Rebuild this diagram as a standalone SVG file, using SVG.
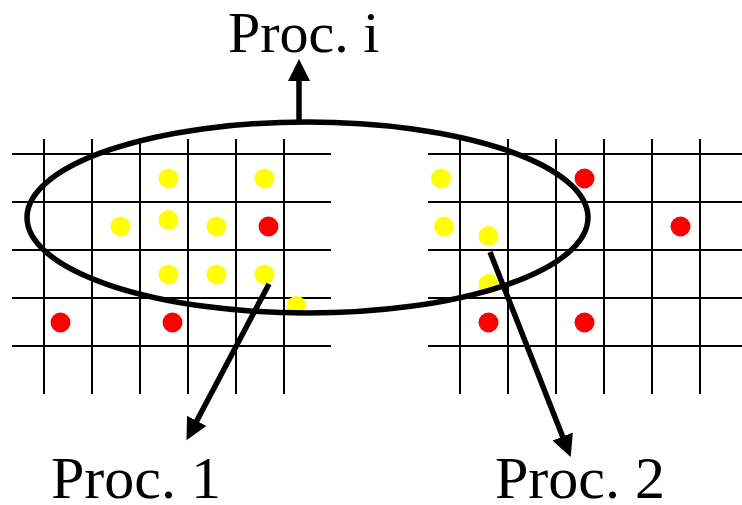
<svg xmlns="http://www.w3.org/2000/svg" width="742" height="505" viewBox="0 0 742 505">
<defs>
<style>
.grid line{stroke:#000;stroke-width:2}
.y{fill:#ffff00}
.r{fill:#ff0000}
.lbl{font-family:"Liberation Serif","Times New Roman",serif;font-size:58px;fill:#000}
.lbl2{font-family:"Liberation Serif","Times New Roman",serif;font-size:60px;fill:#000}
.conn{stroke:#000;stroke-width:5.5;fill:none}
</style>
<marker id="ah" markerUnits="userSpaceOnUse" markerWidth="24" markerHeight="24" refX="1" refY="11" orient="auto">
<path d="M0,0 L22,11 L0,22 z" fill="#000"/>
</marker>
</defs>
<rect width="742" height="505" fill="#fff"/>
<g id="grid-left" class="grid">
<line x1="12" y1="154" x2="331" y2="154"/>
<line x1="12" y1="202" x2="331" y2="202"/>
<line x1="12" y1="250" x2="331" y2="250"/>
<line x1="12" y1="298" x2="331" y2="298"/>
<line x1="12" y1="346" x2="331" y2="346"/>
<line x1="44" y1="139" x2="44" y2="394"/>
<line x1="92" y1="139" x2="92" y2="394"/>
<line x1="140" y1="139" x2="140" y2="394"/>
<line x1="188" y1="139" x2="188" y2="394"/>
<line x1="236" y1="139" x2="236" y2="394"/>
<line x1="284" y1="139" x2="284" y2="394"/>
</g>
<g id="grid-right" class="grid">
<line x1="428" y1="154" x2="742" y2="154"/>
<line x1="428" y1="202" x2="742" y2="202"/>
<line x1="428" y1="250" x2="742" y2="250"/>
<line x1="428" y1="298" x2="742" y2="298"/>
<line x1="428" y1="346" x2="742" y2="346"/>
<line x1="460" y1="139" x2="460" y2="394"/>
<line x1="508" y1="139" x2="508" y2="394"/>
<line x1="556" y1="139" x2="556" y2="394"/>
<line x1="604" y1="139" x2="604" y2="394"/>
<line x1="652" y1="139" x2="652" y2="394"/>
<line x1="700" y1="139" x2="700" y2="394"/>
</g>
<g id="dots-left">
<circle class="y" cx="168.5" cy="178.5" r="10"/>
<circle class="y" cx="264.5" cy="178.5" r="10"/>
<circle class="y" cx="120.5" cy="226.5" r="10"/>
<circle class="y" cx="168.5" cy="220" r="10"/>
<circle class="y" cx="216.5" cy="226.5" r="10"/>
<circle class="r" cx="268.5" cy="226.5" r="10"/>
<circle class="y" cx="168.5" cy="274.5" r="10"/>
<circle class="y" cx="216.5" cy="274.5" r="10"/>
<circle class="y" cx="264.5" cy="274.5" r="10"/>
<circle class="y" cx="296.5" cy="306" r="10"/>
<circle class="r" cx="60.5" cy="322.5" r="10"/>
<circle class="r" cx="172.5" cy="322.5" r="10"/>
</g>
<g id="dots-right">
<circle class="y" cx="441" cy="178.5" r="10"/>
<circle class="r" cx="584.5" cy="178.5" r="10"/>
<circle class="y" cx="444" cy="226.5" r="10"/>
<circle class="y" cx="488.5" cy="236" r="10"/>
<circle class="r" cx="680.5" cy="226.5" r="10"/>
<circle class="y" cx="488.5" cy="284" r="10"/>
<circle class="r" cx="488.5" cy="322.5" r="10"/>
<circle class="r" cx="584.5" cy="322.5" r="10"/>
</g>
<g id="proc-i-region">
<ellipse cx="307.5" cy="217.5" rx="280.5" ry="95.5" fill="none" stroke="#000" stroke-width="5.5"/>
</g>
<g id="connectors">
<line class="conn" x1="299" y1="122" x2="299" y2="80" marker-end="url(#ah)"/>
<line class="conn" x1="269" y1="284" x2="196.3" y2="421.7" marker-end="url(#ah)"/>
<line class="conn" x1="490" y1="252" x2="563" y2="437.5" marker-end="url(#ah)"/>
</g>
<g id="label-proc-i"><text class="lbl" x="228" y="52">Proc. i</text></g>
<g id="label-proc-1"><text class="lbl2" x="51" y="498">Proc. 1</text></g>
<g id="label-proc-2"><text class="lbl2" x="495" y="498">Proc. 2</text></g>
</svg>
